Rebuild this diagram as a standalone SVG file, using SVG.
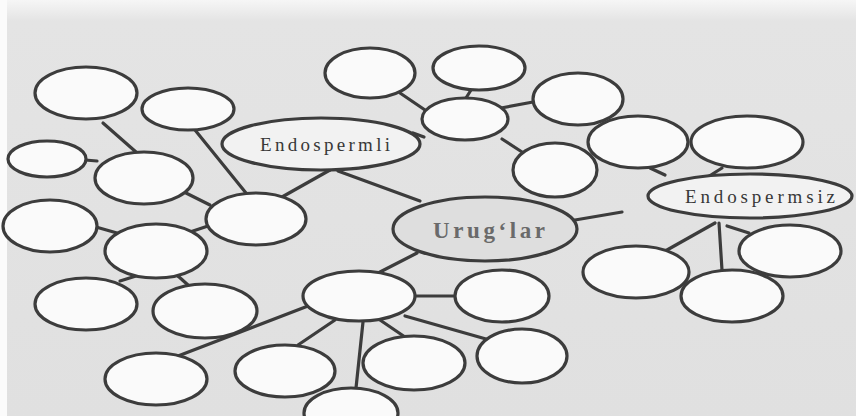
<svg xmlns="http://www.w3.org/2000/svg" width="856" height="416" viewBox="0 0 856 416">
<defs>
<linearGradient id="bg" x1="0" y1="0" x2="0" y2="1">
<stop offset="0" stop-color="#f6f6f6"/>
<stop offset="0.05" stop-color="#e4e4e4"/>
<stop offset="1" stop-color="#e0e0e0"/>
</linearGradient>
<style>
.n ellipse{fill:#fafafa;stroke:#3c3c3c;stroke-width:3.2}
.k ellipse{fill:#f2f2f2;stroke:#3c3c3c;stroke-width:3.2}
.c ellipse{fill:#dedede;stroke:#3c3c3c;stroke-width:3.2}
#connectors line{stroke:#3c3c3c;stroke-width:3.2;stroke-linecap:round}
.t{font-family:"Liberation Serif","DejaVu Serif",serif;fill:#383838;font-size:19px}
.tb{font-family:"Liberation Serif","DejaVu Serif",serif;fill:#6a6a6a;font-size:23px;font-weight:bold}
</style>
</defs>
<rect x="0" y="0" width="856" height="416" fill="#fbfbfb"/>
<rect x="7" y="0" width="849" height="416" fill="url(#bg)"/>
<g id="connectors">
<line x1="330" y1="170" x2="282" y2="197"/>
<line x1="338" y1="171" x2="420" y2="201"/>
<line x1="400" y1="93" x2="425" y2="110"/>
<line x1="413" y1="133" x2="424" y2="137"/>
<line x1="195" y1="130" x2="246" y2="193"/>
<line x1="103" y1="123" x2="136" y2="152"/>
<line x1="85" y1="160" x2="97" y2="161"/>
<line x1="186" y1="193" x2="210" y2="205"/>
<line x1="96" y1="227" x2="117" y2="233"/>
<line x1="190" y1="232" x2="208" y2="226"/>
<line x1="120" y1="281" x2="136" y2="276"/>
<line x1="178" y1="276" x2="188" y2="285"/>
<line x1="178" y1="356" x2="308" y2="306"/>
<line x1="298" y1="345" x2="335" y2="320"/>
<line x1="356" y1="388" x2="363" y2="322"/>
<line x1="380" y1="320" x2="405" y2="337"/>
<line x1="405" y1="316" x2="486" y2="339"/>
<line x1="415" y1="296" x2="455" y2="296"/>
<line x1="380" y1="272" x2="417" y2="253"/>
<line x1="575" y1="220" x2="622" y2="212"/>
<line x1="715" y1="223" x2="667" y2="250"/>
<line x1="719" y1="223" x2="722" y2="270"/>
<line x1="727" y1="226" x2="749" y2="233"/>
<line x1="650" y1="168" x2="665" y2="175"/>
<line x1="722" y1="168" x2="703" y2="180"/>
<line x1="471" y1="90" x2="466" y2="98"/>
<line x1="501" y1="108" x2="533" y2="102"/>
<line x1="502" y1="139" x2="522" y2="152"/>
</g>
<g id="n1" class="n"><ellipse cx="86" cy="93" rx="51" ry="26"/></g>
<g id="n2" class="n"><ellipse cx="188" cy="109" rx="46" ry="21"/></g>
<g id="endospermli" class="k"><ellipse cx="321" cy="144" rx="99" ry="26"/><text class="t" x="260" y="151" textLength="130" lengthAdjust="spacing">Endospermli</text></g>
<g id="n4" class="n"><ellipse cx="47" cy="159" rx="39" ry="18"/></g>
<g id="n5" class="n"><ellipse cx="144" cy="178" rx="49" ry="26"/></g>
<g id="n6" class="n"><ellipse cx="256" cy="219" rx="50" ry="26"/></g>
<g id="n7" class="n"><ellipse cx="50" cy="226" rx="47" ry="26"/></g>
<g id="n8" class="n"><ellipse cx="156" cy="251" rx="51" ry="27"/></g>
<g id="n10" class="n"><ellipse cx="86" cy="304" rx="51" ry="26"/></g>
<g id="n11" class="n"><ellipse cx="205" cy="311" rx="52" ry="27"/></g>
<g id="n12" class="n"><ellipse cx="156" cy="379" rx="51" ry="26"/></g>
<g id="n13" class="n"><ellipse cx="359" cy="296" rx="56" ry="25"/></g>
<g id="n14" class="n"><ellipse cx="285" cy="371" rx="50" ry="26"/></g>
<g id="n15" class="n"><ellipse cx="351" cy="413" rx="47" ry="25"/></g>
<g id="n16" class="n"><ellipse cx="414" cy="363" rx="51" ry="27"/></g>
<g id="uruglar" class="c"><ellipse cx="485" cy="229" rx="92" ry="32"/><text class="tb" x="433" y="238" textLength="112" lengthAdjust="spacing">Urug‘lar</text></g>
<g id="n18" class="n"><ellipse cx="502" cy="296" rx="47" ry="26"/></g>
<g id="n19" class="n"><ellipse cx="522" cy="356" rx="45" ry="27"/></g>
<g id="endospermsiz" class="k"><ellipse cx="750" cy="196" rx="102" ry="22"/><text class="t" x="685" y="203" textLength="150" lengthAdjust="spacing">Endospermsiz</text></g>
<g id="n21" class="n"><ellipse cx="636" cy="272" rx="53" ry="26"/></g>
<g id="n22" class="n"><ellipse cx="732" cy="296" rx="51" ry="26"/></g>
<g id="n23" class="n"><ellipse cx="790" cy="251" rx="51" ry="26"/></g>
<g id="n24" class="n"><ellipse cx="370" cy="73" rx="45" ry="25"/></g>
<g id="n25" class="n"><ellipse cx="479" cy="68" rx="46" ry="22"/></g>
<g id="n26" class="n"><ellipse cx="465" cy="119" rx="43" ry="21"/></g>
<g id="n27" class="n"><ellipse cx="578" cy="99" rx="45" ry="26"/></g>
<g id="n28" class="n"><ellipse cx="555" cy="170" rx="42" ry="27"/></g>
<g id="n29" class="n"><ellipse cx="638" cy="142" rx="50" ry="26"/></g>
<g id="n30" class="n"><ellipse cx="747" cy="142" rx="56" ry="26"/></g>
</svg>
